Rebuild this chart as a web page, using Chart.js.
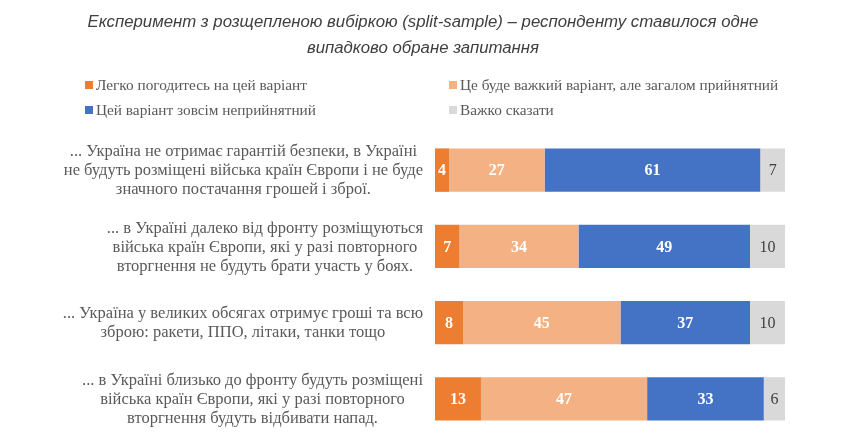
<!DOCTYPE html>
<html>
<head>
<meta charset="utf-8">
<script src="https://cdn.jsdelivr.net/npm/chart.js@4/dist/chart.umd.min.js"></script>
<style>
    body { margin: 0; background: #fff; }
    #wrap { position: relative; width: 846px; height: 446px; overflow: hidden; }
    #chart { position: absolute; left: 0; top: 0; }
    .title {
        position: absolute; left: 0; width: 846px; text-align: center;
        font-family: "Liberation Sans", Arial, sans-serif; font-style: italic;
        font-size: 16.8px; color: #404040; line-height: 26px;
    }
    .legend-item {
        position: absolute; font-family: "Liberation Serif", "Times New Roman", serif;
        font-size: 15.3px; color: #595959; white-space: nowrap; line-height: 16px;
    }
    .legend-item span {
        display: inline-block; width: 8px; height: 8px; margin-right: 3px; vertical-align: 1px;
    }
</style>
</head>
<body>
<div id="wrap">
    <canvas id="chart" width="846" height="446"></canvas>
    <div class="title" style="top:9px">Експеримент з розщепленою вибіркою (split-sample) – респонденту ставилося одне<br>випадково обране запитання</div>
    <div id="legend"></div>
</div>
<script>
// categories (each one is a multi-line label)
const categories = [
    ['... Україна не отримає гарантій безпеки, в Україні', 'не будуть розміщені війська країн Європи і не буде', 'значного постачання грошей і зброї.'],
    ['... в Україні далеко від фронту розміщуються', 'війська країн Європи, які у разі повторного', 'вторгнення не будуть брати участь у боях.'],
    ['... Україна у великих обсягах отримує гроші та всю', 'зброю: ракети, ППО, літаки, танки тощо'],
    ['... в Україні близько до фронту будуть розміщені', 'війська країн Європи, які у разі повторного', 'вторгнення будуть відбивати напад.']
];

const seriesNames = [
    'Легко погодитесь на цей варіант',
    'Це буде важкий варіант, але загалом прийнятний',
    'Цей варіант зовсім неприйнятний',
    'Важко сказати'
];

const easyValues = [4, 7, 8, 13];
const hardValues = [27, 34, 45, 47];
const unacceptableValues = [61, 49, 37, 33];
const dontKnowValues = [7, 10, 10, 6];

const seriesColors = ['#ED7D31', '#F4B183', '#4472C4', '#D9D9D9'];
const allValues = [easyValues, hardValues, unacceptableValues, dontKnowValues];

// 100% stacked: each row scaled to its own total
const rowTotals = categories.map((c, i) => allValues.reduce((s, arr) => s + arr[i], 0));

const datasets = allValues.map((vals, k) => ({
    label: seriesNames[k],
    data: vals.map((v, i) => v / rowTotals[i] * 100),
    raw: vals,
    backgroundColor: seriesColors[k],
    borderWidth: 0,
    barPercentage: 0.57,
    categoryPercentage: 1
}));

// legend (html)
const legendPos = [[85, 77], [449, 77], [85, 102], [449, 102]];
document.getElementById('legend').innerHTML = seriesNames.map((name, k) => `
    <div class="legend-item" style="left:${legendPos[k][0]}px;top:${legendPos[k][1]}px">
        <span style="background:${seriesColors[k]}"></span>${name}
    </div>`).join('');

// value labels inside bars
const valueLabels = {
    id: 'valueLabels',
    afterDatasetsDraw(chart) {
        const ctx = chart.ctx;
        ctx.save();
        ctx.textAlign = 'center';
        ctx.textBaseline = 'middle';
        chart.data.datasets.forEach((ds, k) => {
            const meta = chart.getDatasetMeta(k);
            meta.data.forEach((el, i) => {
                if (k === 3) {
                    ctx.fillStyle = '#404040';
                    ctx.font = '16px "Liberation Serif"';
                } else {
                    ctx.fillStyle = '#ffffff';
                    ctx.font = 'bold 16px "Liberation Serif"';
                }
                ctx.fillText(ds.raw[i], (el.x + el.base) / 2, el.y + 1);
            });
        });
        ctx.restore();
    }
};

// category labels: block right-aligned, lines centered inside it
const categoryLabels = {
    id: 'categoryLabels',
    afterDraw(chart) {
        const ctx = chart.ctx;
        const yScale = chart.scales.y;
        const lineH = 19;
        ctx.save();
        ctx.font = '16.5px "Liberation Serif"';
        ctx.fillStyle = '#595959';
        ctx.textAlign = 'center';
        ctx.textBaseline = 'middle';
        categories.forEach((lines, i) => {
            const maxW = Math.max(...lines.map(l => ctx.measureText(l).width));
            const cx = 423 - maxW / 2;
            const y0 = yScale.getPixelForValue(i) - (lines.length - 1) * lineH / 2 + 1;
            lines.forEach((l, j) => ctx.fillText(l, cx, y0 + j * lineH));
        });
        ctx.restore();
    }
};

new Chart(document.getElementById('chart'), {
    type: 'bar',
    data: { labels: categories.map(c => c.join(' ')), datasets: datasets },
    options: {
        indexAxis: 'y',
        responsive: false,
        animation: false,
        layout: { padding: { left: 435, right: 61, top: 132, bottom: 9 } },
        scales: {
            x: { stacked: true, min: 0, max: 100, display: false },
            y: { stacked: true, display: false }
        },
        plugins: {
            legend: { display: false },
            tooltip: { enabled: false }
        }
    },
    plugins: [valueLabels, categoryLabels]
});
</script>
</body>
</html>
